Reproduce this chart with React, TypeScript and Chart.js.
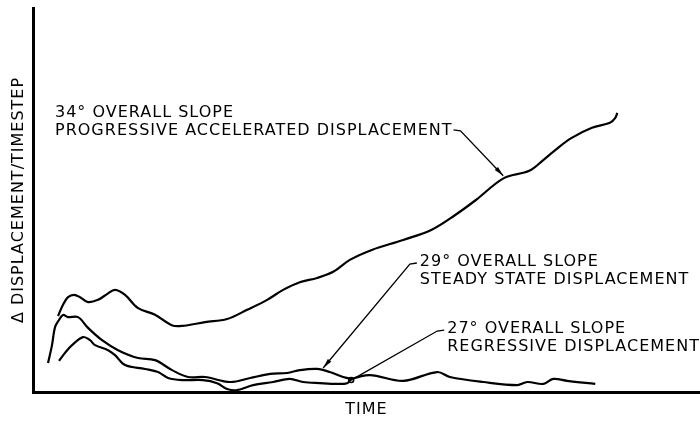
import React, { useEffect, useRef } from "react";
import { Chart, registerables } from "chart.js";

Chart.register(...registerables);

// ---- Data (time units 0-100, displacement units 0-100) ----
const slope34Time = [3.75, 4.5, 5.25, 6.15, 7.05, 8.25, 9.75, 11.1, 12.3, 13.8, 15.7, 18.3, 20.8, 22.3, 25.8, 29.1, 32.1, 35.1, 37.5, 40.0, 42.6, 45.0, 47.5, 50.8, 55.5, 59.7, 63.3, 66.4, 70.6, 74.4, 76.5, 78.3, 80.7, 83.8, 86.5, 87.3, 87.6];
const slope34Disp = [19.8, 22.7, 24.7, 25.3, 24.7, 23.4, 24.0, 25.5, 26.6, 25.3, 21.9, 20.1, 17.4, 17.2, 18.2, 19.0, 21.4, 24.0, 26.6, 28.6, 29.7, 31.3, 34.4, 37.0, 39.6, 42.2, 46.1, 50.0, 55.7, 57.6, 60.4, 63.0, 66.1, 68.8, 70.1, 71.4, 72.7];

const slope29Time = [2.25, 2.85, 3.3, 3.9, 4.5, 5.25, 6.75, 8.25, 10.35, 12.75, 15.75, 18.3, 20.85, 23.25, 25.8, 29.55, 32.55, 35.55, 38.1, 40.0, 42.6, 44.5, 46.5, 47.8];
const slope29Disp = [7.55, 12.2, 16.9, 18.75, 20.05, 19.5, 19.5, 16.7, 13.5, 10.9, 8.85, 8.3, 5.7, 3.9, 3.9, 2.6, 3.65, 4.7, 4.95, 5.7, 6.0, 5.2, 3.9, 3.4];

const slope27Time = [3.9, 4.8, 5.85, 7.5, 8.55, 9.3, 11.25, 12.3, 13.8, 16.8, 18.75, 20.25, 22.35, 25.5, 27.6, 29.1, 30.6, 33.0, 36.0, 38.5, 40.5, 43.0, 45.6, 47.1, 47.8, 50.5, 55.5, 60.6, 62.5, 67.5, 72.6, 74.1, 76.5, 78.0, 80.1, 84.3];
const slope27Disp = [8.1, 10.2, 12.2, 14.3, 13.5, 12.2, 10.9, 9.6, 7.0, 6.0, 5.2, 3.65, 3.1, 3.1, 2.3, 0.8, 0.5, 1.8, 2.6, 3.4, 2.6, 2.3, 2.1, 2.3, 3.4, 4.4, 2.9, 5.2, 3.9, 2.6, 1.8, 2.6, 2.1, 3.4, 2.9, 2.1];

const xAxisTitle = "TIME";
const yAxisTitle = "Δ DISPLACEMENT/TIMESTEP";

// annotation labels and the data point each one points at
const label34 = ["34° OVERALL SLOPE", "PROGRESSIVE ACCELERATED DISPLACEMENT"];
const label29 = ["29° OVERALL SLOPE", "STEADY STATE DISPLACEMENT"];
const label27 = ["27° OVERALL SLOPE", "REGRESSIVE DISPLACEMENT"];
const target34 = { x: 70.5, y: 56.3 };
const target29 = { x: 43.5, y: 6.25 };
const target27 = { x: 47.7, y: 3.1 };

const annotationConfig = [
  { lines: label34, textX: 3.3, textY: 72.7, target: target34, side: "right", head: "arrow" },
  { lines: label29, textX: 58.0, textY: 33.85, target: target29, side: "left", head: "arrow" },
  { lines: label27, textX: 62.1, textY: 16.4, target: target27, side: "left", head: "dot" },
];

const toPoints = (xs: number[], ys: number[]) => xs.map((x, i) => ({ x, y: ys[i] }));

const FONT = "'DejaVu Sans', sans-serif";

const spacingPlugin = {
  id: "letterSpacing",
  beforeDraw(chart: any) {
    (chart.ctx as any).letterSpacing = "1px";
  },
};

const annotationPlugin = {
  id: "cadAnnotations",
  afterDraw(chart: any) {
    const ctx = chart.ctx as CanvasRenderingContext2D;
    const xs = chart.scales.x;
    const ys = chart.scales.y;
    ctx.save();
    (ctx as any).letterSpacing = "1px";
    ctx.font = `16px ${FONT}`;
    ctx.fillStyle = "#000";
    ctx.strokeStyle = "#000";
    ctx.textBaseline = "middle";
    ctx.textAlign = "left";
    const lineGap = 18;
    annotationConfig.forEach((a) => {
      const tx = xs.getPixelForValue(a.textX);
      const ty = ys.getPixelForValue(a.textY);
      a.lines.forEach((l, i) => ctx.fillText(l, tx, ty + i * lineGap));
      const tipX = xs.getPixelForValue(a.target.x);
      const tipY = ys.getPixelForValue(a.target.y);
      let p0x: number, p0y: number, p1x: number, p1y: number;
      if (a.side === "right") {
        const w = ctx.measureText(a.lines[1]).width;
        p0x = tx + w + 1;
        p0y = ty + lineGap - 1;
        p1x = p0x + 7;
        p1y = p0y + 1;
      } else {
        p0x = tx - 3;
        p0y = ty + 1;
        p1x = tx - 10;
        p1y = ty + 2;
      }
      ctx.lineWidth = 1.3;
      ctx.beginPath();
      ctx.moveTo(p0x, p0y);
      ctx.lineTo(p1x, p1y);
      ctx.lineTo(tipX, tipY);
      ctx.stroke();
      if (a.head === "arrow") {
        const ang = Math.atan2(tipY - p1y, tipX - p1x);
        const len = 10;
        const hw = 2.2;
        const bx = tipX - Math.cos(ang) * len;
        const by = tipY - Math.sin(ang) * len;
        ctx.beginPath();
        ctx.moveTo(tipX, tipY);
        ctx.lineTo(bx - Math.sin(ang) * hw, by + Math.cos(ang) * hw);
        ctx.lineTo(bx + Math.sin(ang) * hw, by - Math.cos(ang) * hw);
        ctx.closePath();
        ctx.fill();
      } else {
        ctx.beginPath();
        ctx.arc(tipX, tipY, 2.5, 0, Math.PI * 2);
        ctx.lineWidth = 1.5;
        ctx.stroke();
      }
    });
    ctx.restore();
  },
};

export default function App() {
  const canvasRef = useRef<HTMLCanvasElement | null>(null);

  useEffect(() => {
    if (!canvasRef.current) return;
    const lineStyle = {
      borderColor: "#000",
      backgroundColor: "#000",
      borderWidth: 2.2,
      pointRadius: 0,
      tension: 0.35,
      fill: false,
    };
    const chart = new Chart(canvasRef.current, {
      type: "line",
      data: {
        datasets: [
          { label: "34° overall slope", data: toPoints(slope34Time, slope34Disp), ...lineStyle },
          { label: "29° overall slope", data: toPoints(slope29Time, slope29Disp), ...lineStyle },
          { label: "27° overall slope", data: toPoints(slope27Time, slope27Disp), ...lineStyle },
        ],
      },
      options: {
        responsive: false,
        animation: false,
        devicePixelRatio: 1,
        layout: { padding: { top: 8, left: 0, right: 0, bottom: 0 } },
        plugins: {
          legend: { display: false },
          tooltip: { enabled: false },
          title: { display: false },
        },
        scales: {
          x: {
            type: "linear",
            min: 0,
            max: 100,
            grid: { display: false, drawTicks: false },
            ticks: { display: false },
            border: { display: true, color: "#000", width: 3 },
            title: {
              display: true,
              text: xAxisTitle,
              color: "#000",
              font: { family: FONT, size: 16, lineHeight: 1.2 },
              padding: { top: 8.4, bottom: 1.4 },
            },
          },
          y: {
            type: "linear",
            min: 0,
            max: 100,
            grid: { display: false, drawTicks: false },
            ticks: { display: false },
            border: { display: true, color: "#000", width: 3 },
            title: {
              display: true,
              text: yAxisTitle,
              color: "#000",
              font: { family: FONT, size: 16, lineHeight: 1.2 },
              padding: { top: 9.4, bottom: 4.4 },
            },
          },
        },
      },
      plugins: [spacingPlugin, annotationPlugin],
    } as any);
    return () => chart.destroy();
  }, []);

  return (
    <div style={{ position: "fixed", left: 0, top: 0, width: 700, height: 421, background: "#fff" }}>
      <canvas ref={canvasRef} width={700} height={421} style={{ display: "block" }} />
    </div>
  );
}
